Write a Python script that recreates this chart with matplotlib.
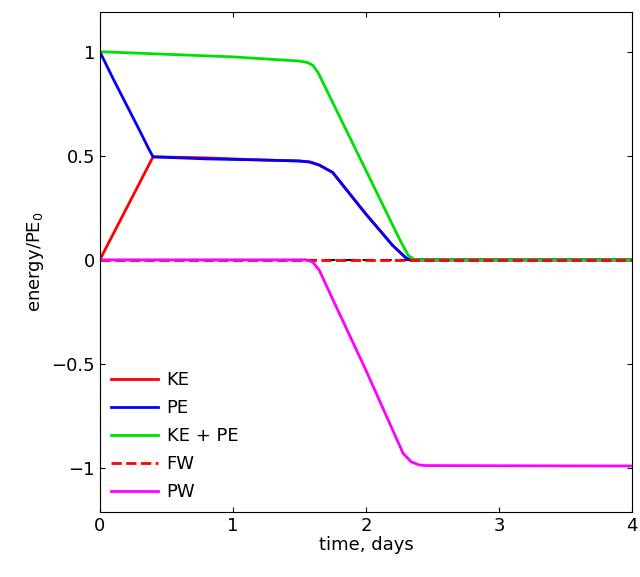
import matplotlib
matplotlib.use("Agg")
import matplotlib.pyplot as plt

t_ke = [0, 0.4, 0.8, 1.2, 1.5, 1.58, 1.65, 1.75, 2.0, 2.2, 2.3, 2.33, 4]
ke = [0, 0.495, 0.49, 0.48, 0.475, 0.47, 0.455, 0.42, 0.22, 0.07, 0.01, 0, 0]
t_pe = [0, 0.1, 0.2, 0.3, 0.37, 0.4, 0.8, 1.2, 1.5, 1.58, 1.65, 1.75, 2.0, 2.2, 2.3, 2.33, 4]
pe = [1, 0.87, 0.745, 0.62, 0.53, 0.495, 0.485, 0.48, 0.475, 0.47, 0.455, 0.42, 0.22, 0.07, 0.01, 0, 0]
t_tot = [0, 1.0, 1.5, 1.56, 1.6, 1.64, 2.0, 2.26, 2.32, 2.37, 4]
tot = [1, 0.975, 0.955, 0.948, 0.935, 0.9, 0.43, 0.09, 0.02, 0, 0]
t_fw = [0, 4]
fw = [0, 0]
t_pw = [0, 1.55, 1.6, 1.65, 1.7, 2.0, 2.28, 2.34, 2.4, 2.45, 4]
pw = [0, 0, -0.01, -0.05, -0.12, -0.53, -0.93, -0.97, -0.985, -0.988, -0.99]

fig = plt.figure(figsize=(6.4, 5.77), dpi=100)
ax = fig.add_axes([0.156, 0.113, 0.8315, 0.866])
ax.plot(t_ke, ke, color='red', lw=2, label='KE')
ax.plot(t_pe, pe, color='blue', lw=2, label='PE')
ax.plot(t_tot, tot, color='#00e000', lw=2, label='KE + PE')
ax.plot(t_fw, fw, color='red', ls='--', lw=2, label='FW')
ax.plot(t_fw, fw, 'k--', lw=1.5, dashes=(5, 4), zorder=1.9)
ax.plot(t_pw, pw, color='magenta', lw=2, label='PW')
ax.set_xlim(0, 4)
ax.set_ylim(-1.21, 1.19)
ax.set_xticks([0, 1, 2, 3, 4])
ax.set_yticks([-1, -0.5, 0, 0.5, 1])
ax.set_yticklabels(['\u22121', '\u22120.5', '0', '0.5', '1'])
ax.tick_params(direction='in', labelsize=13, top=True, right=True)
ax.set_xlabel('time, days', fontsize=13, labelpad=1)
ax.set_ylabel('energy/PE$_0$', fontsize=13)
ax.legend(loc='lower left', frameon=False, fontsize=13, handlelength=2.6,
          handletextpad=0.5, labelspacing=0.55, borderaxespad=0.2)
fig.savefig('out.png')
